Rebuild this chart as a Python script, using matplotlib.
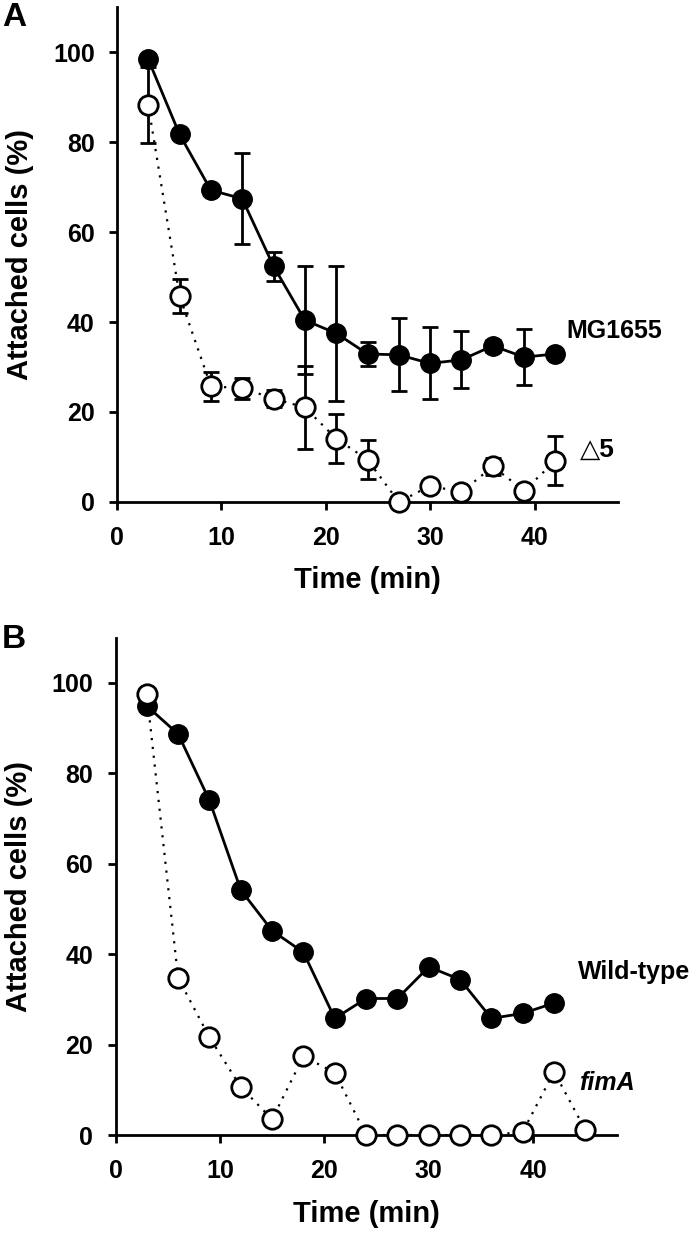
import matplotlib
matplotlib.use('Agg')
import matplotlib.pyplot as plt
import numpy as np

plt.rcParams['font.family'] = ['Liberation Sans', 'DejaVu Sans']
plt.rcParams['font.weight'] = 'bold'

# Panel A: MG1655 (filled) and delta5 (open), mean with error bars
time_a = [3, 6, 9, 12, 15, 18, 21, 24, 27, 30, 33, 36, 39, 42]
mg1655 = [98.4, 81.7, 69.3, 67.4, 52.4, 40.4, 37.5, 32.9, 32.7, 30.8, 31.6, 34.7, 32.2, 32.9]
mg1655_err = [0, 0, 0, 10.1, 3.2, 12.0, 15.0, 2.7, 8.1, 8.0, 6.3, 1.4, 6.3, 0]
delta5 = [88.2, 45.8, 25.7, 25.3, 23.0, 21.0, 14.1, 9.4, 0.0, 3.6, 2.2, 7.9, 2.5, 9.2]
delta5_err = [8.5, 3.7, 3.3, 2.3, 2.0, 9.2, 5.4, 4.4, 0, 0, 0, 1.9, 0, 5.4]

# Panel B: wild-type (filled) and fimA (open)
time_wt = [3, 6, 9, 12, 15, 18, 21, 24, 27, 30, 33, 36, 39, 42]
wild_type = [94.9, 88.7, 74.0, 54.2, 45.2, 40.4, 25.8, 30.2, 30.2, 37.2, 34.4, 25.8, 26.9, 29.2]
time_fim = [3, 6, 9, 12, 15, 18, 21, 24, 27, 30, 33, 36, 39, 42, 45]
fima = [97.6, 34.7, 21.6, 10.6, 3.5, 17.4, 13.8, 0, 0, 0, 0, 0, 0.7, 14.0, 1.1]

TICK_SIZE = 18
LABEL_SIZE = 21
NOTE_SIZE = 18
MS = 14
DOTS = (0, (1, 3))

fig = plt.figure(figsize=(7, 12.34), dpi=100)
ax_a = fig.add_axes([0.167, 0.5932, 0.716, 0.4011])
ax_b = fig.add_axes([0.165, 0.0802, 0.716, 0.4030])


def style_axis(ax):
    ax.set_xlim(0, 48)
    ax.set_ylim(0, 110)
    ax.set_xticks([0, 10, 20, 30, 40])
    ax.set_yticks([0, 20, 40, 60, 80, 100])
    for side in ['top', 'right']:
        ax.spines[side].set_visible(False)
    for side in ['left', 'bottom']:
        ax.spines[side].set_linewidth(2)
    ax.tick_params(axis='both', direction='out', length=6, width=2, labelsize=TICK_SIZE)
    ax.tick_params(axis='x', pad=11)
    ax.tick_params(axis='y', pad=10)
    ax.set_xlabel('Time (min)', fontsize=LABEL_SIZE, fontweight='bold')
    ax.set_ylabel('Attached cells (%)', fontsize=LABEL_SIZE, fontweight='bold')
    ax.yaxis.set_label_coords(-0.165, 0.5)
    ax.xaxis.set_label_coords(0.5, -0.13)


# panel A
style_axis(ax_a)
ax_a.errorbar(time_a, delta5, yerr=delta5_err, color='black', linestyle=DOTS, lw=1.6,
              marker='o', ms=MS, mfc='white', mec='black', mew=2,
              ecolor='black', elinewidth=2, capsize=6, capthick=2, clip_on=False, zorder=3)
ax_a.errorbar(time_a, mg1655, yerr=mg1655_err, color='black', linestyle='-', lw=2,
              marker='o', ms=MS, mfc='black', mec='black',
              ecolor='black', elinewidth=2, capsize=6, capthick=2, clip_on=False, zorder=4)
ax_a.text(43.0, 38, 'MG1655', fontsize=NOTE_SIZE, fontweight='bold', va='center', ha='left')
ax_a.text(44.3, 11.5, '\u25b35', fontsize=19, fontweight='bold', va='center', ha='left')

# panel B
style_axis(ax_b)
ax_b.plot(time_wt, wild_type, color='black', linestyle='-', lw=2,
          marker='o', ms=MS, mfc='black', mec='black', clip_on=False, zorder=3)
ax_b.plot(time_fim, fima, color='black', linestyle=DOTS, lw=1.6,
          marker='o', ms=MS, mfc='white', mec='black', mew=2, clip_on=False, zorder=4)
ax_b.text(44.3, 36, 'Wild-type', fontsize=NOTE_SIZE, fontweight='bold', va='center', ha='left')
ax_b.text(44.4, 11.5, 'fimA', fontsize=NOTE_SIZE, fontweight='bold', fontstyle='italic',
          va='center', ha='left')

fig.text(0.003, 0.979, 'A', fontsize=24, fontweight='bold', va='baseline', ha='left')
fig.text(0.003, 0.475, 'B', fontsize=24, fontweight='bold', va='baseline', ha='left')

fig.savefig('out.png', dpi=100)
